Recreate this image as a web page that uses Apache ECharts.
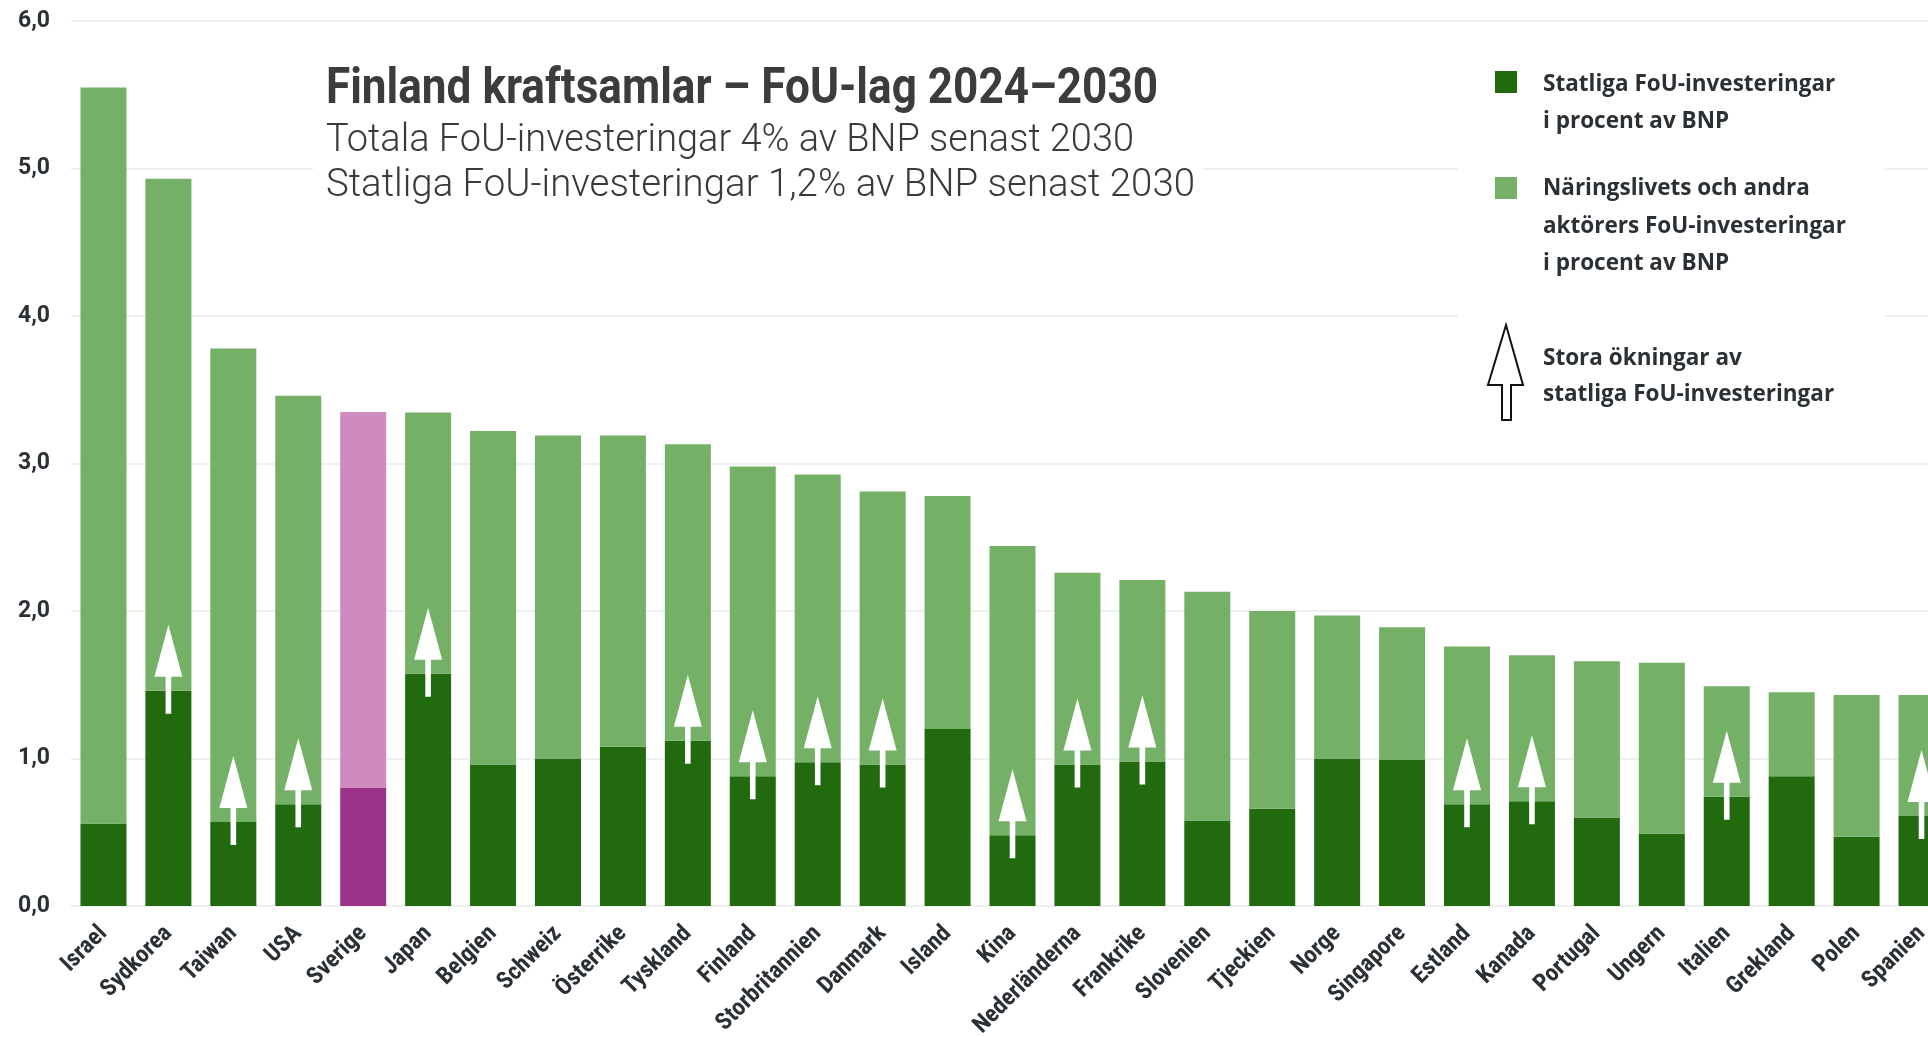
<!DOCTYPE html>
<html lang="sv">
<head>
<meta charset="utf-8">
<title>Finland kraftsamlar – FoU-lag 2024–2030</title>
<script src="https://cdn.jsdelivr.net/npm/echarts@6/dist/echarts.min.js"></script>
<style>
  html, body { margin: 0; padding: 0; background: #ffffff; }
  #chart { width: 1928px; height: 1037px; }
</style>
</head>
<body>
<div id="chart"></div>
<script>
// FoU-investeringar i procent av BNP, per land
const countries = ['Israel', 'Sydkorea', 'Taiwan', 'USA', 'Sverige', 'Japan', 'Belgien', 'Schweiz', 'Österrike',
  'Tyskland', 'Finland', 'Storbritannien', 'Danmark', 'Island', 'Kina', 'Nederländerna', 'Frankrike', 'Slovenien',
  'Tjeckien', 'Norge', 'Singapore', 'Estland', 'Kanada', 'Portugal', 'Ungern', 'Italien', 'Grekland', 'Polen', 'Spanien'];

// Statliga FoU-investeringar
const statliga = [0.56, 1.46, 0.57, 0.69, 0.80, 1.575, 0.96, 1.00, 1.08,
  1.12, 0.88, 0.975, 0.96, 1.20, 0.48, 0.96, 0.98, 0.58,
  0.66, 1.00, 0.99, 0.69, 0.71, 0.60, 0.49, 0.74, 0.88, 0.47, 0.61];

// Näringslivets och andra aktörers FoU-investeringar
const ovriga = [4.99, 3.47, 3.21, 2.77, 2.55, 1.77, 2.26, 2.19, 2.11,
  2.01, 2.10, 1.95, 1.85, 1.58, 1.96, 1.30, 1.23, 1.55,
  1.34, 0.97, 0.90, 1.07, 0.99, 1.06, 1.16, 0.75, 0.57, 0.96, 0.82];

// Länder med stora ökningar av statliga FoU-investeringar
const storaOkningar = ['Sydkorea', 'Taiwan', 'USA', 'Japan', 'Tyskland', 'Finland', 'Storbritannien', 'Danmark',
  'Kina', 'Nederländerna', 'Frankrike', 'Estland', 'Kanada', 'Italien', 'Spanien'];

const yTicks = [0, 1, 2, 3, 4, 5, 6];

const titleText = 'Finland kraftsamlar – FoU-lag 2024–2030';
const subtitleLines = ['Totala FoU-investeringar 4% av BNP senast 2030', 'Statliga FoU-investeringar 1,2% av BNP senast 2030'];
const legendStatliga = ['Statliga FoU-investeringar', 'i procent av BNP'];
const legendOvriga = ['Näringslivets och andra', 'aktörers FoU-investeringar', 'i procent av BNP'];
const legendArrow = ['Stora ökningar av', 'statliga FoU-investeringar'];

const highlight = 'Sverige';
const colors = {
  dark: '#216a0e', light: '#74b166',
  darkHi: '#9a3488', lightHi: '#cf8abf'
};
const textColor = '#2b3035';

// First installed family from a list (compares glyph widths with generic fallbacks)
function pickFont(list, weight) {
  const ctx = document.createElement('canvas').getContext('2d');
  const probe = 'Storbritannien Nederländerna 2024';
  const width = f => { ctx.font = weight + ' 40px ' + f; return ctx.measureText(probe).width; };
  const mono = width('monospace'), serif = width('serif');
  for (const fam of list) {
    if (width('"' + fam + '", monospace') !== mono || width('"' + fam + '", serif') !== serif) return '"' + fam + '"';
  }
  return 'sans-serif';
}

const narrow = pickFont(['Roboto Condensed', 'DejaVu Sans Condensed', 'Liberation Sans Narrow', 'Roboto'], 'bold');
const headFont = '"Roboto", "Liberation Sans", sans-serif';
const legendFont = '"Open Sans", Lato, sans-serif';

// Horizontal scale that makes a line of text span the given width
function fitScale(text, font, target) {
  const ctx = document.createElement('canvas').getContext('2d');
  ctx.font = font;
  return target / ctx.measureText(text).width;
}

const chart = echarts.init(document.getElementById('chart'), null, { renderer: 'canvas' });

const statligaData = statliga.map((v, i) => countries[i] === highlight
  ? { value: v, itemStyle: { color: colors.darkHi } } : v);
const ovrigaData = ovriga.map((v, i) => countries[i] === highlight
  ? { value: v, itemStyle: { color: colors.lightHi } } : v);
const arrowData = countries
  .map((c, i) => [i, statliga[i]])
  .filter(d => storaOkningar.includes(countries[d[0]]));

// Upward arrow drawn in pixel units around the top of the state-funded segment
function renderArrow(params, api) {
  const p = api.coord([api.value(0), api.value(1)]);
  const pts = [[0, -66], [14, -14], [2.8, -14], [2.8, 23], [-2.8, 23], [-2.8, -14], [-14, -14]]
    .map(q => [p[0] + q[0], p[1] + q[1]]);
  return { type: 'polygon', shape: { points: pts }, style: { fill: '#ffffff' } };
}

function textEl(text, x, y, font, fill, sx) {
  return { type: 'text', x: x, y: y, z: 10, scaleX: sx || 1,
    style: { text: text, font: font, fill: fill, align: 'left', verticalAlign: 'middle' } };
}

const titleFontStr = 'bold 50px ' + headFont;
const subFontStr = '300 39px ' + headFont;
const legendFontStr = 'bold 22.5px ' + legendFont;

const graphics = [
  { type: 'rect', z: 1, shape: { x: 313, y: 40, width: 890, height: 168 }, style: { fill: '#ffffff' } },
  { type: 'rect', z: 1, shape: { x: 1458, y: 40, width: 427, height: 400 }, style: { fill: '#ffffff' } },
  textEl(titleText, 326, 90, titleFontStr, '#3c3c3c', fitScale(titleText, titleFontStr, 832)),
  textEl(subtitleLines[0], 326, 141, subFontStr, '#3a3a3a', fitScale(subtitleLines[0], subFontStr, 808)),
  textEl(subtitleLines[1], 326, 186, subFontStr, '#3a3a3a', fitScale(subtitleLines[1], subFontStr, 869)),
  { type: 'rect', z: 10, shape: { x: 1495, y: 71, width: 22, height: 22 }, style: { fill: colors.dark } },
  { type: 'rect', z: 10, shape: { x: 1495, y: 177, width: 22, height: 22 }, style: { fill: colors.light } },
  { type: 'polygon', z: 10,
    shape: { points: [[1506, 325], [1523, 385], [1511, 385], [1511, 420], [1502, 420], [1502, 385], [1488, 385]] },
    style: { fill: '#ffffff', stroke: '#111111', lineWidth: 2 } }
];
legendStatliga.forEach((t, k) => graphics.push(textEl(t, 1543, 85 + k * 37, legendFontStr, textColor)));
legendOvriga.forEach((t, k) => graphics.push(textEl(t, 1543, 189 + k * 37.5, legendFontStr, textColor)));
legendArrow.forEach((t, k) => graphics.push(textEl(t, 1543, 359 + k * 36, legendFontStr, textColor)));

chart.setOption({
  animation: false,
  backgroundColor: '#ffffff',
  grid: { left: 71, top: 21, width: 1883, height: 885, containLabel: false, outerBoundsMode: 'none' },
  xAxis: {
    type: 'category',
    data: countries,
    axisLine: { show: true, lineStyle: { color: '#efefef', width: 2 } },
    axisTick: { show: false },
    axisLabel: {
      interval: 0, rotate: 45, margin: 24,
      fontFamily: narrow, fontWeight: 'bold', fontSize: 24, color: textColor
    }
  },
  yAxis: {
    type: 'value',
    min: yTicks[0], max: yTicks[yTicks.length - 1], interval: 1,
    axisLine: { show: false },
    axisTick: { show: false },
    splitLine: { lineStyle: { color: '#eeefef', width: 2 } },
    axisLabel: {
      margin: 21, fontSize: 23, fontWeight: 'bold', fontFamily: 'Roboto, sans-serif', color: textColor,
      formatter: v => v.toFixed(1).replace('.', ',')
    }
  },
  series: [
    { name: 'Statliga', type: 'bar', stack: 'fou', barWidth: 46, data: statligaData,
      itemStyle: { color: colors.dark } },
    { name: 'Övriga', type: 'bar', stack: 'fou', barWidth: 46, data: ovrigaData,
      itemStyle: { color: colors.light } },
    { name: 'Ökningar', type: 'custom', z: 5, data: arrowData, renderItem: renderArrow, silent: true }
  ],
  graphic: graphics
});
</script>
</body>
</html>
